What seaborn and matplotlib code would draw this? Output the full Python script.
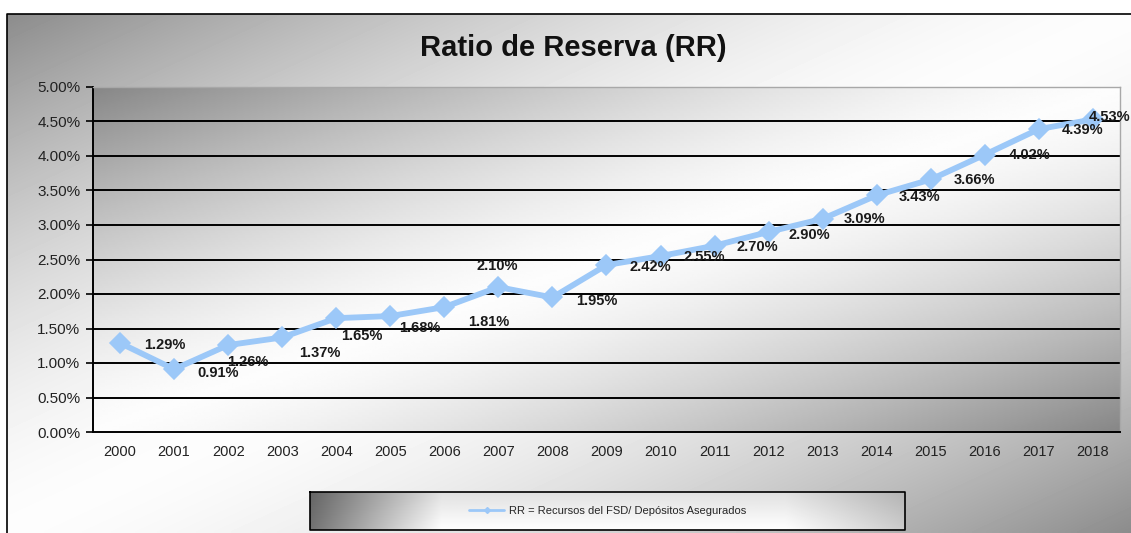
import numpy as np
import pandas as pd
import matplotlib
matplotlib.use("Agg")
import matplotlib.pyplot as plt
from matplotlib.lines import Line2D
import seaborn as sns

# ---- data ----
years = ["2000", "2001", "2002", "2003", "2004", "2005", "2006", "2007", "2008", "2009",
         "2010", "2011", "2012", "2013", "2014", "2015", "2016", "2017", "2018"]
ratio = [1.29, 0.91, 1.26, 1.37, 1.65, 1.68, 1.81, 2.10, 1.95, 2.42,
         2.55, 2.70, 2.90, 3.09, 3.43, 3.66, 4.02, 4.39, 4.53]   # percent
title = "Ratio de Reserva (RR)"
series_name = "RR = Recursos del FSD/ Depósitos Asegurados"

# label offsets in pixels (style only)
label_offsets = [(45, -2), (44, -4), (20, -17), (38, -16), (26, -18), (30, -12), (44, -15),
                 (-1, 21), (44, -4), (44, -2), (44, -1), (43, -1), (41, -3), (42, 0),
                 (43, -2), (44, -1), (45, 0), (44, -1), (17, 2)]

df = pd.DataFrame({"year": years, "rr": [v / 100 for v in ratio]})

sns.set_theme(style="white")
plt.rcParams["font.family"] = ["Liberation Sans", "DejaVu Sans"]

W, H = 1131, 533
fig = plt.figure(figsize=(W / 100, H / 100), dpi=100)
fig.patch.set_facecolor("white")

# background axes in pixel coordinates
bg = fig.add_axes([0, 0, 1, 1], zorder=0)
bg.set_xlim(0, W)
bg.set_ylim(H, 0)
bg.axis("off")


def diag_grad(w, h, lo=0.44, p=1.6):
    xs = np.linspace(0, 1, w)
    ys = np.linspace(0, 1, h)
    d = xs[None, :] + ys[:, None] - 1
    return 0.99 - lo * np.abs(d) ** p


cmap = "gray"
bg.imshow(diag_grad(300, 150), extent=(7, W, H, 14), origin="upper", cmap=cmap,
          vmin=0, vmax=1, aspect="auto", interpolation="bilinear")
bg.plot([7, 7, W], [H, 14, 14], color="black", lw=1.2)

# plot-area gradient
px0, px1, py0, py1 = 93, 1120, 87, 432
bg.imshow(diag_grad(300, 150, lo=0.46, p=1.4), extent=(px0, px1, py1, py0), origin="upper",
          cmap=cmap, vmin=0, vmax=1, aspect="auto", interpolation="bilinear")

# legend-box gradient
lx0, lx1, ly0, ly1 = 310, 905, 492, 530
xs = np.linspace(0, 1, 300)
row = np.interp(xs, [0, 0.22, 0.8, 1], [0.45, 1.0, 1.0, 0.8])
ys = np.linspace(0, 1, 40)
leg_grad = row[None, :] * (0.88 + 0.12 * ys[:, None])
bg.imshow(np.clip(leg_grad, 0, 1), extent=(lx0, lx1, ly1, ly0), origin="upper", cmap=cmap,
          vmin=0, vmax=1, aspect="auto", interpolation="bilinear")
bg.plot([lx0, lx1, lx1, lx0, lx0], [ly0, ly0, ly1, ly1, ly0], color="black", lw=1.2)

# title
fig.text(573 / W, 1 - 48 / H, title, ha="center", va="center",
         fontsize=21, fontweight="bold", color="#111111")

# main axes
ax = fig.add_axes([px0 / W, 1 - py1 / H, (px1 - px0) / W, (py1 - py0) / H], zorder=2)
ax.patch.set_alpha(0)

line_color = "#9CC8F8"
sns.pointplot(data=df, x="year", y="rr", ax=ax, color=line_color, markers="D",
              linestyles="-", markersize=8, linewidth=4.2, errorbar=None)

ax.set_xlim(-0.5, len(years) - 0.5)
ax.set_ylim(0, 0.05)
yt = np.arange(0, 0.0501, 0.005)
ax.set_yticks(yt)
ax.set_yticklabels([f"{v * 100:.2f}%" for v in yt], fontsize=11, color="#222222")
for v in yt[1:-1]:
    ax.axhline(v, color="black", lw=1.4, zorder=1)
ax.set_xticks(range(len(years)))
ax.set_xticklabels(years, fontsize=10.5, color="#222222")
ax.set_xticks(np.arange(-0.5, len(years), 1), minor=True)
ax.tick_params(axis="x", which="major", length=0, pad=9)
ax.tick_params(axis="x", which="minor", length=5, width=1.2, color="black", direction="out")
ax.tick_params(axis="y", which="major", length=5, width=1.2, color="black", direction="out", pad=4)
ax.tick_params(axis="both", bottom=True, left=True)
ax.set_xlabel("")
ax.set_ylabel("")
ax.grid(False)
for s in ["left", "bottom"]:
    ax.spines[s].set_color("black")
    ax.spines[s].set_linewidth(1.4)
    ax.spines[s].set_visible(True)
for s in ["top", "right"]:
    ax.spines[s].set_color("#a8a8a8")
    ax.spines[s].set_linewidth(1.0)
    ax.spines[s].set_visible(True)

# data labels
for i, (v, (dx, dy)) in enumerate(zip(ratio, label_offsets)):
    ax.annotate(f"{v:.2f}%", xy=(i, v / 100), xytext=(dx, dy), textcoords="offset pixels",
                ha="center", va="center", fontsize=10.5, fontweight="bold", color="#1a1a1a",
                annotation_clip=False, zorder=5)

# legend inside the gradient box
legax = fig.add_axes([lx0 / W, 1 - ly1 / H, (lx1 - lx0) / W, (ly1 - ly0) / H], zorder=3)
legax.axis("off")
handle = Line2D([], [], color=line_color, lw=2, marker="D", markersize=3)
legax.legend([handle], [series_name], loc="center", frameon=False, fontsize=8,
             handlelength=3.2, handletextpad=0.4, bbox_to_anchor=(0.5, 0.5))

fig.savefig("out.png", dpi=100)
